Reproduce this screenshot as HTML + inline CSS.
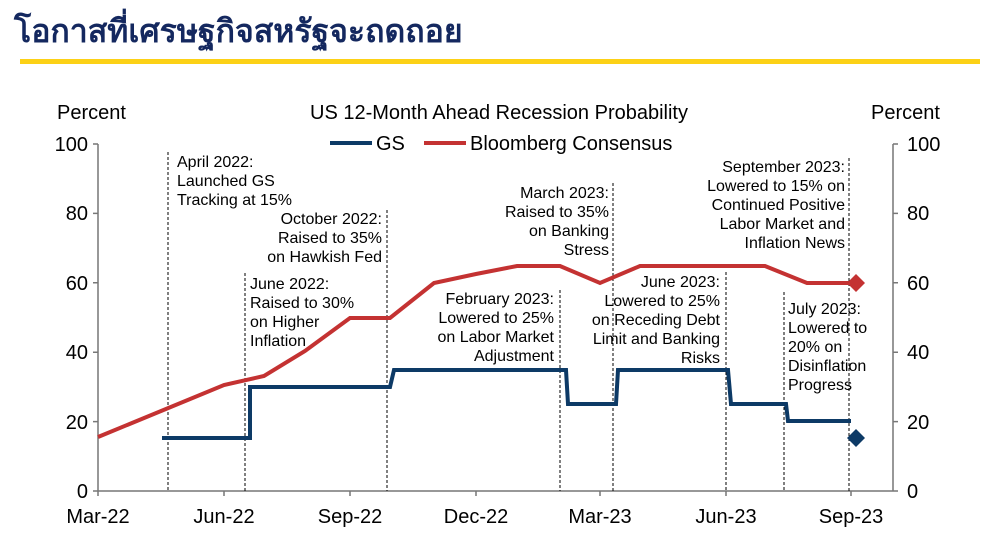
<!DOCTYPE html>
<html><head><meta charset="utf-8"><style>
body{margin:0;background:#fff;width:986px;height:550px;overflow:hidden}
svg{display:block}
text{font-family:"Liberation Sans",Arial,sans-serif;fill:#000}
.a{font-size:16px}
.t{font-size:20px}
</style></head><body>
<svg width="986" height="550" viewBox="0 0 986 550">
<text x="14" y="42" style="font-family:'Liberation Sans','Noto Sans CJK SC',sans-serif;font-size:32px;font-weight:bold;fill:#14285f">โอกาสที่เศรษฐกิจสหรัฐจะถดถอย</text>
<rect x="20" y="59" width="960" height="5" fill="#fcd116"/>
<text x="57" y="119" class="t">Percent</text>
<text x="871" y="119" class="t">Percent</text>
<text x="499" y="119" class="t" text-anchor="middle">US 12-Month Ahead Recession Probability</text>
<line x1="330" y1="143" x2="372" y2="143" stroke="#0d3a66" stroke-width="4"/>
<text x="376" y="150" class="t">GS</text>
<line x1="424" y1="143" x2="466" y2="143" stroke="#c43232" stroke-width="4"/>
<text x="470" y="150" class="t">Bloomberg Consensus</text>
<g stroke="#777" stroke-width="1.5" fill="none">
<line x1="98" y1="144" x2="98" y2="491"/><line x1="893" y1="144" x2="893" y2="491"/>
<line x1="98" y1="491" x2="893" y2="491"/>
<path d="M93 144H98M93 213.4H98M93 282.8H98M93 352.2H98M93 421.6H98M93 491H98"/>
<path d="M893 144H898M893 213.4H898M893 282.8H898M893 352.2H898M893 421.6H898M893 491H898"/>
<path d="M98 491V496M224 491V496M350 491V496M476 491V496M600 491V496M726 491V496M851 491V496"/>
</g>
<g class="t" text-anchor="end">
<text x="88" y="151">100</text><text x="88" y="220">80</text><text x="88" y="290">60</text><text x="88" y="359">40</text><text x="88" y="429">20</text><text x="88" y="498">0</text>
</g>
<g class="t">
<text x="907" y="151">100</text><text x="907" y="220">80</text><text x="907" y="290">60</text><text x="907" y="359">40</text><text x="907" y="429">20</text><text x="907" y="498">0</text>
</g>
<g class="t" text-anchor="middle">
<text x="98" y="523">Mar-22</text><text x="224" y="523">Jun-22</text><text x="350" y="523">Sep-22</text><text x="476" y="523">Dec-22</text><text x="600" y="523">Mar-23</text><text x="726" y="523">Jun-23</text><text x="851" y="523">Sep-23</text>
</g>
<g stroke="#000" stroke-width="1" stroke-dasharray="3,2">
<line x1="168" y1="152" x2="168" y2="491"/><line x1="245" y1="273" x2="245" y2="491"/>
<line x1="387" y1="210" x2="387" y2="491"/><line x1="560" y1="290" x2="560" y2="491"/>
<line x1="613" y1="183" x2="613" y2="491"/><line x1="726" y1="272" x2="726" y2="491"/>
<line x1="784" y1="292" x2="784" y2="491"/><line x1="849" y1="158" x2="849" y2="491"/>
</g>
<polyline fill="none" stroke="#c43232" stroke-width="4" points="98,437 224,385 264,376 305,351 350,318 390,318 434,283 476,274 517,266 560,266 600,283 640,266 765,266 807,283 851,283"/>
<path d="M856 274l9 9-9 9-9-9z" fill="#c43232"/>
<polyline fill="none" stroke="#0d3a66" stroke-width="4" points="162,438 250,438 250,387 390,387 394,370 566,370 568,404 616,404 618,370 728,370 731,404 786,404 788,421 851,421"/>
<path d="M856 429l9 9-9 9-9-9z" fill="#0d3a66"/>
<g class="a">
<text x="177" y="167">April 2022:</text><text x="177" y="186">Launched GS</text><text x="177" y="205">Tracking at 15%</text>
<text x="250" y="289">June 2022:</text><text x="250" y="308">Raised to 30%</text><text x="250" y="327">on Higher</text><text x="250" y="346">Inflation</text>
<text x="788" y="314">July 2023:</text><text x="788" y="333">Lowered to</text><text x="788" y="352">20% on</text><text x="788" y="371">Disinflation</text><text x="788" y="390">Progress</text>
</g>
<g class="a" text-anchor="end">
<text x="382" y="224">October 2022:</text><text x="382" y="243">Raised to 35%</text><text x="382" y="262">on Hawkish Fed</text>
<text x="554" y="304">February 2023:</text><text x="554" y="323">Lowered to 25%</text><text x="554" y="342">on Labor Market</text><text x="554" y="361">Adjustment</text>
<text x="609" y="198">March 2023:</text><text x="609" y="217">Raised to 35%</text><text x="609" y="236">on Banking</text><text x="609" y="255">Stress</text>
<text x="720" y="287">June 2023:</text><text x="720" y="306">Lowered to 25%</text><text x="720" y="325">on Receding Debt</text><text x="720" y="344">Limit and Banking</text><text x="720" y="363">Risks</text>
<text x="845" y="172">September 2023:</text><text x="845" y="191">Lowered to 15% on</text><text x="845" y="210">Continued Positive</text><text x="845" y="229">Labor Market and</text><text x="845" y="248">Inflation News</text>
</g>
</svg>
</body></html>
